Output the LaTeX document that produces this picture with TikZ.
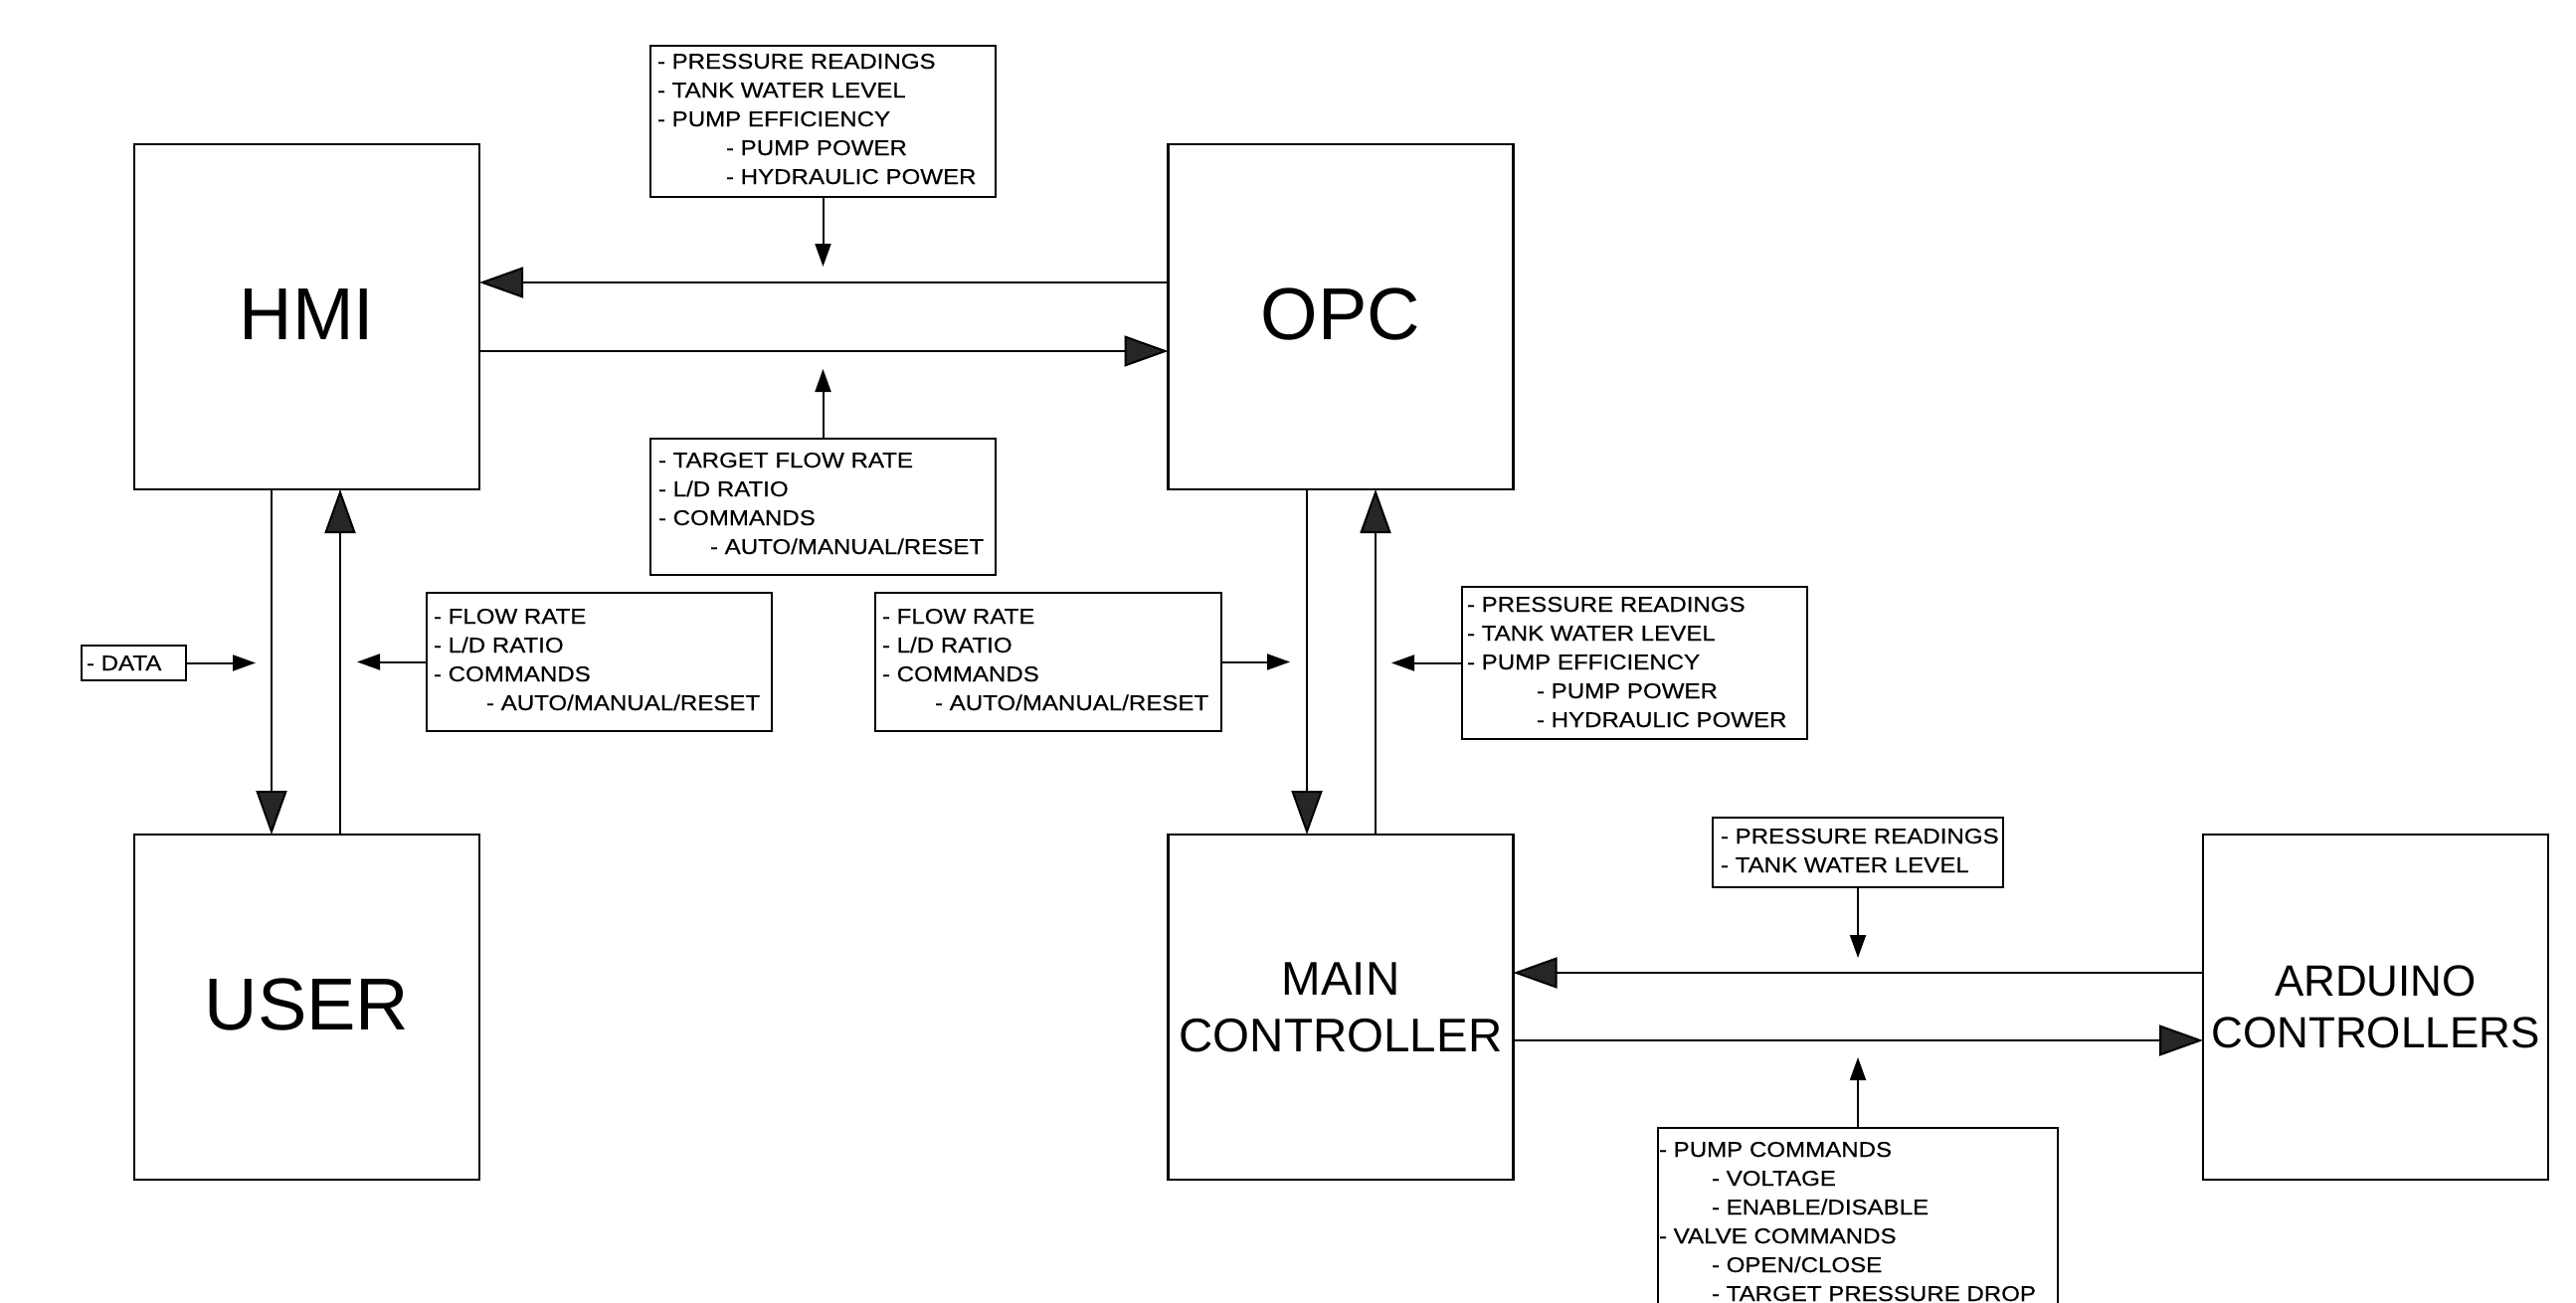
\documentclass[tikz,border=0pt]{standalone}
\usepackage{fontspec}
\setmainfont{Liberation Sans}
\newfontfamily\lblfam[FakeStretch=1.12,FakeBold=0.35]{Liberation Sans}
\usetikzlibrary{arrows.meta,calc}
\newcommand\lblfont{\lblfam\fontsize{21.5}{29}\selectfont}
\newcommand\ia[1]{\hbox{#1}}
\newcommand\ib[2][53]{\hbox{\kern#1pt #2}}
\newcommand\lbltext[1]{\vtop{\lblfont #1}}
\tikzset{
  bigbox/.style={draw, line width=2.2pt, minimum width=347pt, minimum height=347pt, inner sep=0pt, outer sep=0pt, align=center},
  lbox/.style={draw, line width=2.2pt, inner sep=0pt, outer sep=0pt, anchor=north west},
  ltext/.style={inner sep=0pt, outer sep=0pt, anchor=base west},
  bigarr/.style={line width=2pt, -{Triangle[length=44pt,width=31pt,fill=black!85]}},
  smarr/.style={line width=2pt, -{Triangle[length=23pt,width=16pt]}}
}
\begin{document}
\begin{tikzpicture}[x=1pt,y=-1pt]
\clip (0,0) rectangle (2590,1309);
\fill[white] (0,0) rectangle (2590,1309);
% main blocks
\node[bigbox, font=\fontsize{74}{80}\selectfont] (hmi) at (308.5,318.5) {\raisebox{5pt}{HMI}};
\node[bigbox, font=\fontsize{74}{80}\selectfont] (opc) at (1348,318.5) {\raisebox{5pt}{OPC}};
\node[bigbox, font=\fontsize{74}{80}\selectfont] (user) at (308.5,1012.5) {\raisebox{6pt}{USER}};
\node[bigbox, font=\fontsize{47.5}{57}\selectfont] (main) at (1348,1012.5) {MAIN\\CONTROLLER};
\node[bigbox, font=\fontsize{44}{52}\selectfont] (ard) at (2388.5,1012.5) {ARDUINO\\CONTROLLERS};
% label boxes
\node[lbox, minimum width=105pt, minimum height=35pt] (b0) at (82,649) {};
\node[lbox, minimum width=347pt, minimum height=152pt] (b1) at (654,46) {};
\node[lbox, minimum width=347pt, minimum height=137pt] (b2) at (654,441) {};
\node[lbox, minimum width=347pt, minimum height=139pt] (b3) at (429,596) {};
\node[lbox, minimum width=348pt, minimum height=139pt] (b4) at (880,596) {};
\node[lbox, minimum width=347pt, minimum height=153pt] (b5) at (1470,590) {};
\node[lbox, minimum width=292pt, minimum height=70pt] (b6) at (1722,822) {};
\node[lbox, minimum width=402pt, minimum height=250pt] (b7) at (1667,1134) {};
% label texts
\node[ltext] (b0t) at (87,674) {\lbltext{\ia{- DATA}}};
\node[ltext] (b1t) at (661,69) {\lbltext{\ia{- PRESSURE READINGS}\ia{- TANK WATER LEVEL}\ia{- PUMP EFFICIENCY}\ib[69]{- PUMP POWER}\ib[69]{- HYDRAULIC POWER}}};
\node[ltext] (b2t) at (662,470) {\lbltext{\ia{- TARGET FLOW RATE}\ia{- L/D RATIO}\ia{- COMMANDS}\ib[52]{- AUTO/MANUAL/RESET}}};
\node[ltext] (b3t) at (436,627) {\lbltext{\ia{- FLOW RATE}\ia{- L/D RATIO}\ia{- COMMANDS}\ib{- AUTO/MANUAL/RESET}}};
\node[ltext] (b4t) at (887,627) {\lbltext{\ia{- FLOW RATE}\ia{- L/D RATIO}\ia{- COMMANDS}\ib{- AUTO/MANUAL/RESET}}};
\node[ltext] (b5t) at (1475,615) {\lbltext{\ia{- PRESSURE READINGS}\ia{- TANK WATER LEVEL}\ia{- PUMP EFFICIENCY}\ib[70]{- PUMP POWER}\ib[70]{- HYDRAULIC POWER}}};
\node[ltext] (b6t) at (1730,848) {\lbltext{\ia{- PRESSURE READINGS}\ia{- TANK WATER LEVEL}}};
\node[ltext] (b7t) at (1668,1163) {\lbltext{\ia{- PUMP COMMANDS}\ib{- VOLTAGE}\ib{- ENABLE/DISABLE}\ia{- VALVE COMMANDS}\ib{- OPEN/CLOSE}\ib{- TARGET PRESSURE DROP}}};
% helper coordinates
\coordinate (r1) at (0,284);
\coordinate (r2) at (0,353);
\coordinate (r3) at (0,978);
\coordinate (r4) at (0,1046);
\coordinate (c1) at (273,0);
\coordinate (c2) at (342,0);
\coordinate (c3) at (1314,0);
\coordinate (c4) at (1383,0);
% big connectors
\draw[bigarr] (opc.west |- r1) -- (hmi.east |- r1);
\draw[bigarr] (hmi.east |- r2) -- (opc.west |- r2);
\draw[bigarr] (hmi.south -| c1) -- (user.north -| c1);
\draw[bigarr] (user.north -| c2) -- (hmi.south -| c2);
\draw[bigarr] (opc.south -| c3) -- (main.north -| c3);
\draw[bigarr] (main.north -| c4) -- (opc.south -| c4);
\draw[bigarr] (ard.west |- r3) -- (main.east |- r3);
\draw[bigarr] (main.east |- r4) -- (ard.west |- r4);
% small connectors
\coordinate (t0) at (257,666.5);
\coordinate (t1) at (827.5,268);
\coordinate (t2) at (827.5,371);
\coordinate (t3) at (359,665.5);
\coordinate (t4) at (1297,665.5);
\coordinate (t5) at (1399,666.5);
\coordinate (t6) at (1868,963);
\coordinate (t7) at (1868,1063);
\draw[smarr] (b0.east) -- (t0);
\draw[smarr] (b1.south) -- (t1);
\draw[smarr] (b2.north) -- (t2);
\draw[smarr] (b3.west) -- (t3);
\draw[smarr] (b4.east) -- (t4);
\draw[smarr] (b5.west) -- (t5);
\draw[smarr] (b6.south) -- (t6);
\draw[smarr] (b7.north) -- (t7);
\end{tikzpicture}
\end{document}
